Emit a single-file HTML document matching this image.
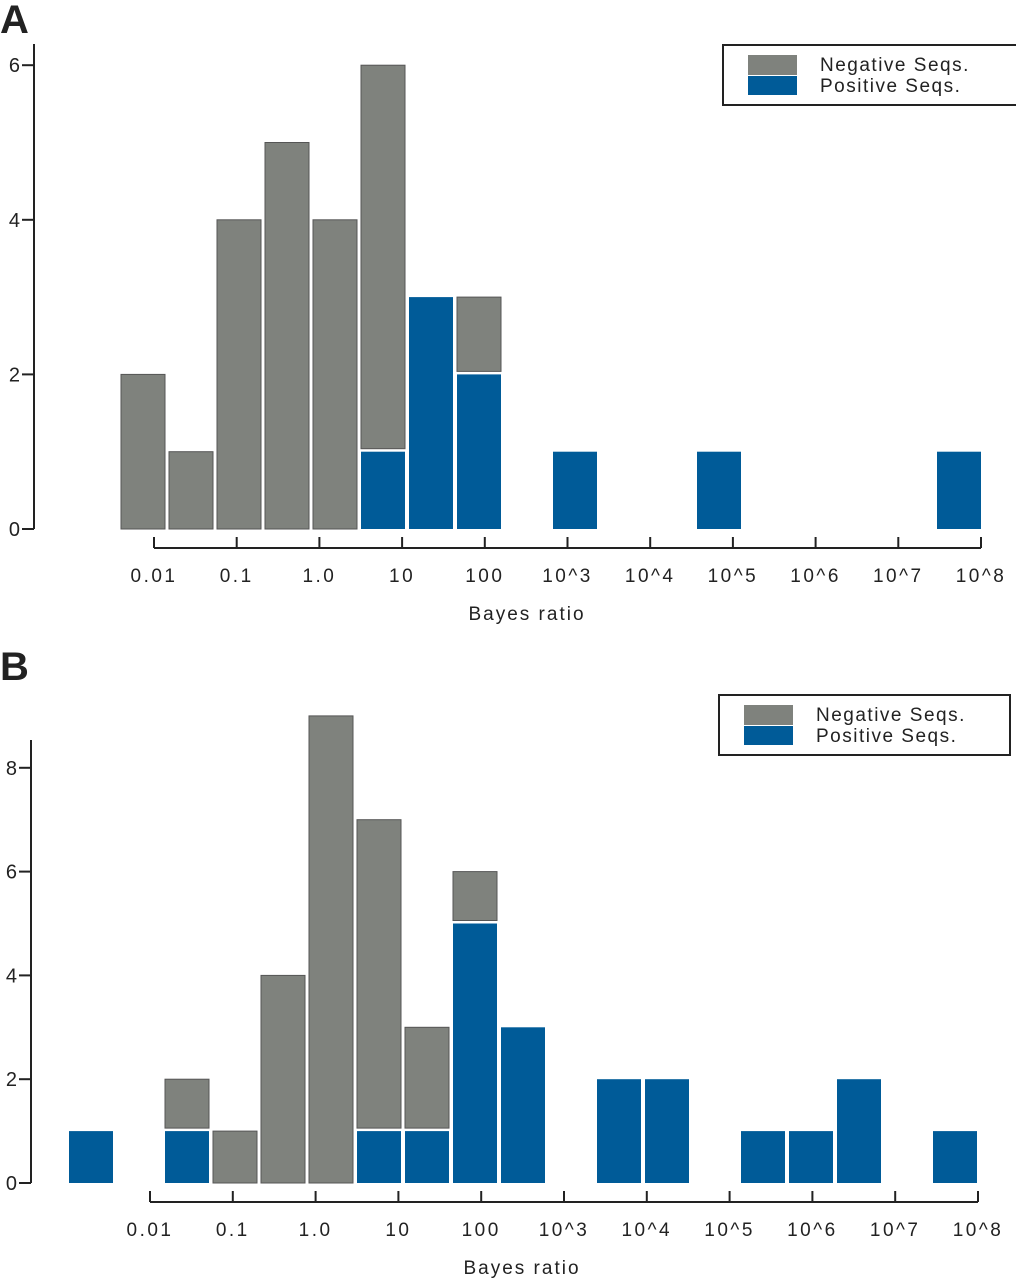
<!DOCTYPE html>
<html><head><meta charset="utf-8">
<style>
html,body{margin:0;padding:0;background:#fff;}
svg{display:block;}
text{font-family:"Liberation Sans",sans-serif;fill:#222;}
</style></head>
<body>
<svg id="chart" width="1016" height="1280" viewBox="0 0 1016 1280"></svg>
<script>
// Panel A data
const binsA = 18;
const negA = [2,1,4,5,4,5,0,1,0,0,0,0,0,0,0,0,0,0];
const posA = [0,0,0,0,0,1,3,2,0,1,0,0,1,0,0,0,0,1];
const yTicksA = [0,2,4,6];
// Panel B data
const binsB = 19;
const negB = [0,0,1,1,4,9,6,2,1,0,0,0,0,0,0,0,0,0,0];
const posB = [1,0,1,0,0,0,1,1,5,3,0,2,2,0,1,1,2,0,1];
const yTicksB = [0,2,4,6,8];
const xTickLabels = ["0.01","0.1","1.0","10","100","10^3","10^4","10^5","10^6","10^7","10^8"];

const NS="http://www.w3.org/2000/svg";
const svg=document.getElementById('chart');
function mk(tag,attrs,parent){const e=document.createElementNS(NS,tag);for(const k in attrs)e.setAttribute(k,attrs[k]);(parent||svg).appendChild(e);return e;}

function panel(cfg){
  const g=mk('g',{});
  
  
  const y=v=>cfg.y0-v*cfg.unit;
  const bx=i=>cfg.bin0+i*cfg.binW;
  const L=mk('text',{x:0,y:cfg.letterY,'font-size':40,'font-weight':'bold',fill:'#111'},g);
  L.textContent=cfg.letter;
  
  
  const ya=mk('line',{x1:cfg.axisX,x2:cfg.axisX,y1:cfg.axisTop,y2:cfg.y0,stroke:'#222','stroke-width':2},g);
  
  
  cfg.yTicks.forEach(t=>{
    mk('line',{x1:cfg.axisX-12,x2:cfg.axisX,y1:y(t),y2:y(t),stroke:'#222','stroke-width':2},g);
    const tx=mk('text',{x:cfg.axisX-14,y:y(t)+7,'font-size':20,'text-anchor':'end'},g);
    tx.textContent=t;
    
    
  });
  for(let i=0;i<cfg.bins;i++){
    const p=cfg.pos[i],n=cfg.neg[i];
    const x=bx(i)+1,w=cfg.binW-4;
    if(p>0){
      const r=mk('rect',{x:x,y:y(p),width:w,height:y(0)-y(p),fill:'#005b98'},g);
      
      
    }
    if(n>0){
      const top=y(p+n),bot=y(p)-(p>0?3:0);
      const r=mk('rect',{x:x,y:top,width:w,height:bot-top,fill:'#7f827d',stroke:'#555','stroke-width':1},g);
      
      
    }
  }
  const xs=i=>cfg.xa0+i*(cfg.xa1-cfg.xa0)/(xTickLabels.length-1);
  const xa=mk('line',{x1:cfg.xa0,x2:cfg.xa1,y1:cfg.xAxisY,y2:cfg.xAxisY,stroke:'#222','stroke-width':2},g);
  
  
  xTickLabels.forEach((lab,i)=>{
    mk('line',{x1:xs(i),x2:xs(i),y1:cfg.xAxisY,y2:cfg.xAxisY-11,stroke:'#222','stroke-width':2},g);
    const tx=mk('text',{x:xs(i),y:cfg.xAxisY+34,'font-size':19,'letter-spacing':2.5,'text-anchor':'middle'},g);
    tx.textContent=lab;
    
    
  });
  const xt=mk('text',{x:cfg.titleX,y:cfg.xAxisY+72,'font-size':19,'letter-spacing':2,'text-anchor':'middle'},g);
  xt.textContent='Bayes ratio';
  
  
  const lg=mk('g',{},g);
  
  
  mk('rect',{x:cfg.lx,y:cfg.ly,width:cfg.lw,height:60,fill:'#fff',stroke:'#222','stroke-width':2},lg);
  mk('rect',{x:cfg.lx+25,y:cfg.ly+10,width:49,height:20,fill:'#7f827d'},lg);
  mk('rect',{x:cfg.lx+25,y:cfg.ly+31,width:49,height:19,fill:'#005b98'},lg);
  const t1=mk('text',{x:cfg.lx+97,y:cfg.ly+26,'font-size':19,'letter-spacing':1.5},lg);
  t1.textContent='Negative Seqs.';
  
  
  const t2=mk('text',{x:cfg.lx+97,y:cfg.ly+47,'font-size':19,'letter-spacing':1.5},lg);
  t2.textContent='Positive Seqs.';
  
  
}

panel({name:'panel-a',letter:'A',letterY:33,bins:binsA,neg:negA,pos:posA,yTicks:yTicksA,
  y0:529,unit:77.3,axisX:34,axisTop:44,bin0:120,binW:48,
  xa0:154,xa1:981,xAxisY:548,titleX:527,lx:723,ly:45,lw:300});
panel({name:'panel-b',letter:'B',letterY:680,bins:binsB,neg:negB,pos:posB,yTicks:yTicksB,
  y0:1183,unit:51.9,axisX:31,axisTop:740,bin0:68,binW:48,
  xa0:150,xa1:978,xAxisY:1202,titleX:522,lx:719,ly:695,lw:291});
</script>
</body></html>
